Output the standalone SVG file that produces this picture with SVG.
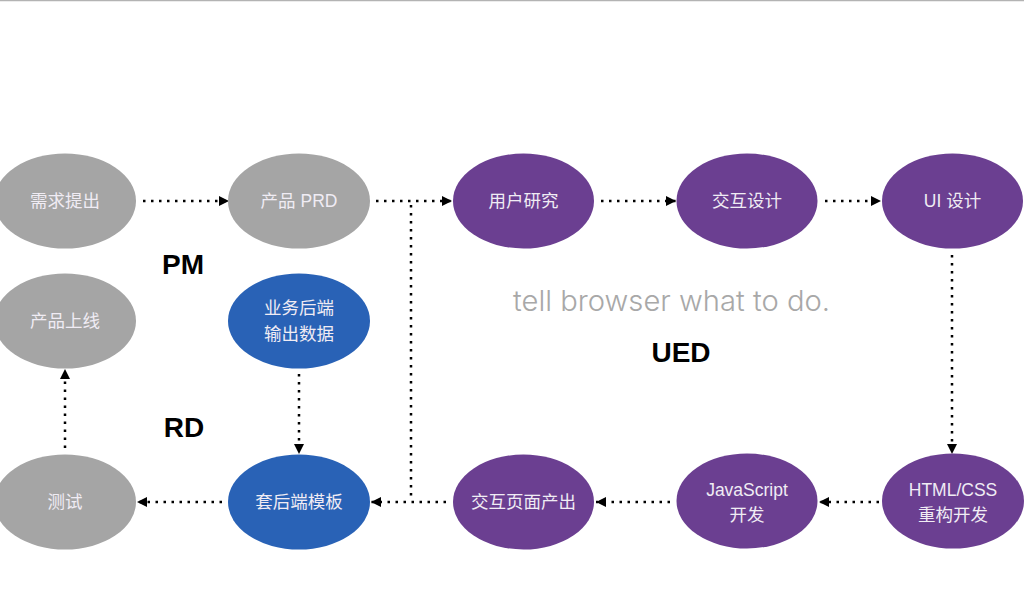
<svg xmlns="http://www.w3.org/2000/svg" width="1024" height="604" viewBox="0 0 1024 604">
<defs>
<marker id="ah" viewBox="0 0 10 10" refX="10" refY="5" markerWidth="10" markerHeight="10" markerUnits="userSpaceOnUse" orient="auto">
<path d="M0,0 L10,5 L0,10 Z" fill="#000"/>
</marker>
<style>
.pm ellipse{fill:#a5a5a5}
.ued ellipse{fill:#6b3f91}
.rd ellipse{fill:#2962b6}
.node text{font-family:"Liberation Sans","Noto Sans CJK SC",sans-serif;font-size:17.5px;fill:#f0ecf4;text-anchor:middle;dominant-baseline:central}
.c{fill:none;stroke:#000;stroke-width:2.5;stroke-dasharray:2.5 5.5}
.lbl{font-family:"Liberation Sans","Noto Sans CJK SC",sans-serif;font-weight:bold;font-size:28px;fill:#000;text-anchor:middle}
</style>
</defs>
<rect width="1024" height="604" fill="#fff"/>
<line x1="0" y1="0.5" x2="1024" y2="0.5" stroke="#b3b3b3" stroke-width="1.5"/>

<g id="connectors">
<path class="c" d="M143,201 H229" marker-end="url(#ah)"/>
<path class="c" d="M376,201 H452" marker-end="url(#ah)"/>
<path class="c" d="M411,205 V498"/>
<path class="c" d="M601,201 H676" marker-end="url(#ah)"/>
<path class="c" d="M825,201 H881" marker-end="url(#ah)"/>
<path class="c" d="M952,255 V454" marker-end="url(#ah)"/>
<path class="c" d="M879,502 H819" marker-end="url(#ah)"/>
<path class="c" d="M670,502 H596" marker-end="url(#ah)"/>
<path class="c" d="M446,502 H371" marker-end="url(#ah)"/>
<path class="c" d="M222,502 H137" marker-end="url(#ah)"/>
<path class="c" d="M65,448 V369" marker-end="url(#ah)"/>
<path class="c" d="M299,374 V454" marker-end="url(#ah)"/>
</g>

<g id="n-xuqiu" class="node pm"><ellipse cx="65" cy="201" rx="71" ry="47.5"/><text x="65" y="201">需求提出</text></g>
<g id="n-prd" class="node pm"><ellipse cx="299" cy="201" rx="71" ry="47.5"/><text x="299" y="201">产品 PRD</text></g>
<g id="n-yonghu" class="node ued"><ellipse cx="523.5" cy="201" rx="70.5" ry="47.5"/><text x="523.5" y="201">用户研究</text></g>
<g id="n-jiaohu" class="node ued"><ellipse cx="747" cy="201" rx="70.5" ry="47.5"/><text x="747" y="201">交互设计</text></g>
<g id="n-ui" class="node ued"><ellipse cx="952.5" cy="201" rx="70.5" ry="47.5"/><text x="952.5" y="201">UI 设计</text></g>

<g id="n-shangxian" class="node pm"><ellipse cx="65" cy="321" rx="71" ry="47.5"/><text x="65" y="321">产品上线</text></g>
<g id="n-yewu" class="node rd"><ellipse cx="299" cy="321" rx="71" ry="47.5"/><text x="299" y="308">业务后端</text><text x="299" y="334">输出数据</text></g>

<g id="n-ceshi" class="node pm"><ellipse cx="65" cy="502" rx="71" ry="47.5"/><text x="65" y="502">测试</text></g>
<g id="n-tao" class="node rd"><ellipse cx="299" cy="502" rx="71" ry="47.5"/><text x="299" y="502">套后端模板</text></g>
<g id="n-yemian" class="node ued"><ellipse cx="523.5" cy="502" rx="70.5" ry="47.5"/><text x="523.5" y="502">交互页面产出</text></g>
<g id="n-js" class="node ued"><ellipse cx="747" cy="501" rx="70.5" ry="47.5"/><text x="747" y="490">JavaScript</text><text x="747" y="515">开发</text></g>
<g id="n-html" class="node ued"><ellipse cx="953" cy="501" rx="71" ry="47.5"/><text x="953" y="490">HTML/CSS</text><text x="953" y="515">重构开发</text></g>

<text class="lbl" x="183" y="274">PM</text>
<text class="lbl" x="184" y="437">RD</text>
<text class="lbl" x="681" y="362">UED</text>
<text x="513" y="311" font-family="Inter, Liberation Sans, sans-serif" font-weight="300" font-size="28" fill="#a8a8a8" textLength="317" lengthAdjust="spacingAndGlyphs">tell browser what to do.</text>
</svg>
